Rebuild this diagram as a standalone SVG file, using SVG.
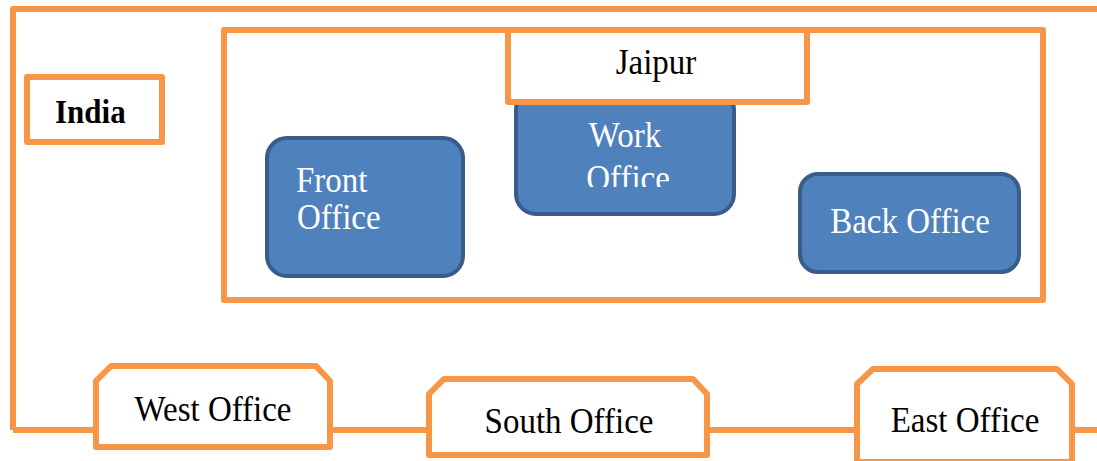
<svg xmlns="http://www.w3.org/2000/svg" width="1097" height="461" viewBox="0 0 1097 461">
  <style>
    .frame { fill: none; stroke: #F79646; stroke-width: 6; stroke-linejoin: round; }
    .box { fill: #FFFFFF; stroke: #F79646; stroke-width: 6; stroke-linejoin: round; }
    .unit { fill: #4F81BD; stroke: #385D8A; stroke-width: 4; }
    text { font-family: 'Liberation Serif', 'Times New Roman', serif; font-size: 33px; }
    .lbl { fill: #000000; }
    .wlbl { fill: #FFFFFF; }
    .wire { fill: none; stroke: #F79646; stroke-width: 6; }
  </style>
  <defs>
    <!-- the Work Office text frame cuts off the bottom of its second line -->
    <clipPath id="workClip">
      <rect x="515" y="95" width="220" height="92"/>
    </clipPath>
  </defs>
  <rect width="1097" height="461" fill="#FFFFFF"/>

  <!-- India region frame (open to the right) -->
  <g id="india-frame">
    <path class="frame" d="M1100 9 H13 V430"/>
  </g>

  <!-- Connectors: line along the bottom linking the regional offices -->
  <g id="connectors">
    <path class="wire" d="M13 430 H1100"/>
  </g>

  <g id="india">
    <rect class="box" x="27" y="77" width="135" height="65"/>
    <text class="lbl" font-weight="bold" style="font-size:31px" transform="translate(55 123) scale(1 1.1)">India</text>
  </g>

  <g id="jaipur">
    <rect class="frame" x="224" y="30" width="819" height="270"/>
  </g>

  <g id="front-office">
    <rect class="unit" x="267" y="138" width="196" height="138" rx="20"/>
    <text class="wlbl" transform="translate(296 192) scale(1 1.1)">Front</text>
    <text class="wlbl" transform="translate(297 229) scale(1 1.1)">Office</text>
  </g>

  <g id="work-office">
    <rect class="unit" x="516" y="90" width="218" height="124" rx="20"/>
    <g clip-path="url(#workClip)">
      <text class="wlbl" text-anchor="middle" transform="translate(625 147) scale(1 1.1)">Work</text>
      <text class="wlbl" text-anchor="middle" transform="translate(628 190) scale(1 1.1)">Office</text>
    </g>
  </g>

  <g id="jaipur-label">
    <rect class="box" x="508" y="30" width="299" height="72"/>
    <text class="lbl" text-anchor="middle" transform="translate(656 74) scale(1 1.1)">Jaipur</text>
  </g>

  <g id="back-office">
    <rect class="unit" x="800" y="174" width="219" height="98" rx="18"/>
    <text class="wlbl" text-anchor="middle" transform="translate(910 233) scale(1 1.1)">Back Office</text>
  </g>

  <g id="west-office">
    <path class="box" d="M96 447 V381 L111 366 H316 L330 381 V447 Z"/>
    <text class="lbl" text-anchor="middle" transform="translate(213 421) scale(1 1.1)">West Office</text>
  </g>

  <g id="south-office">
    <path class="box" d="M429 455 V394 L444 379 H693 L707 394 V455 Z"/>
    <text class="lbl" text-anchor="middle" transform="translate(569 433) scale(1 1.1)">South Office</text>
  </g>

  <g id="east-office">
    <path class="box" d="M857 462 V384 L873 369 H1057 L1072 384 V462 Z"/>
    <text class="lbl" text-anchor="middle" transform="translate(965 432) scale(1 1.1)">East Office</text>
  </g>
</svg>
